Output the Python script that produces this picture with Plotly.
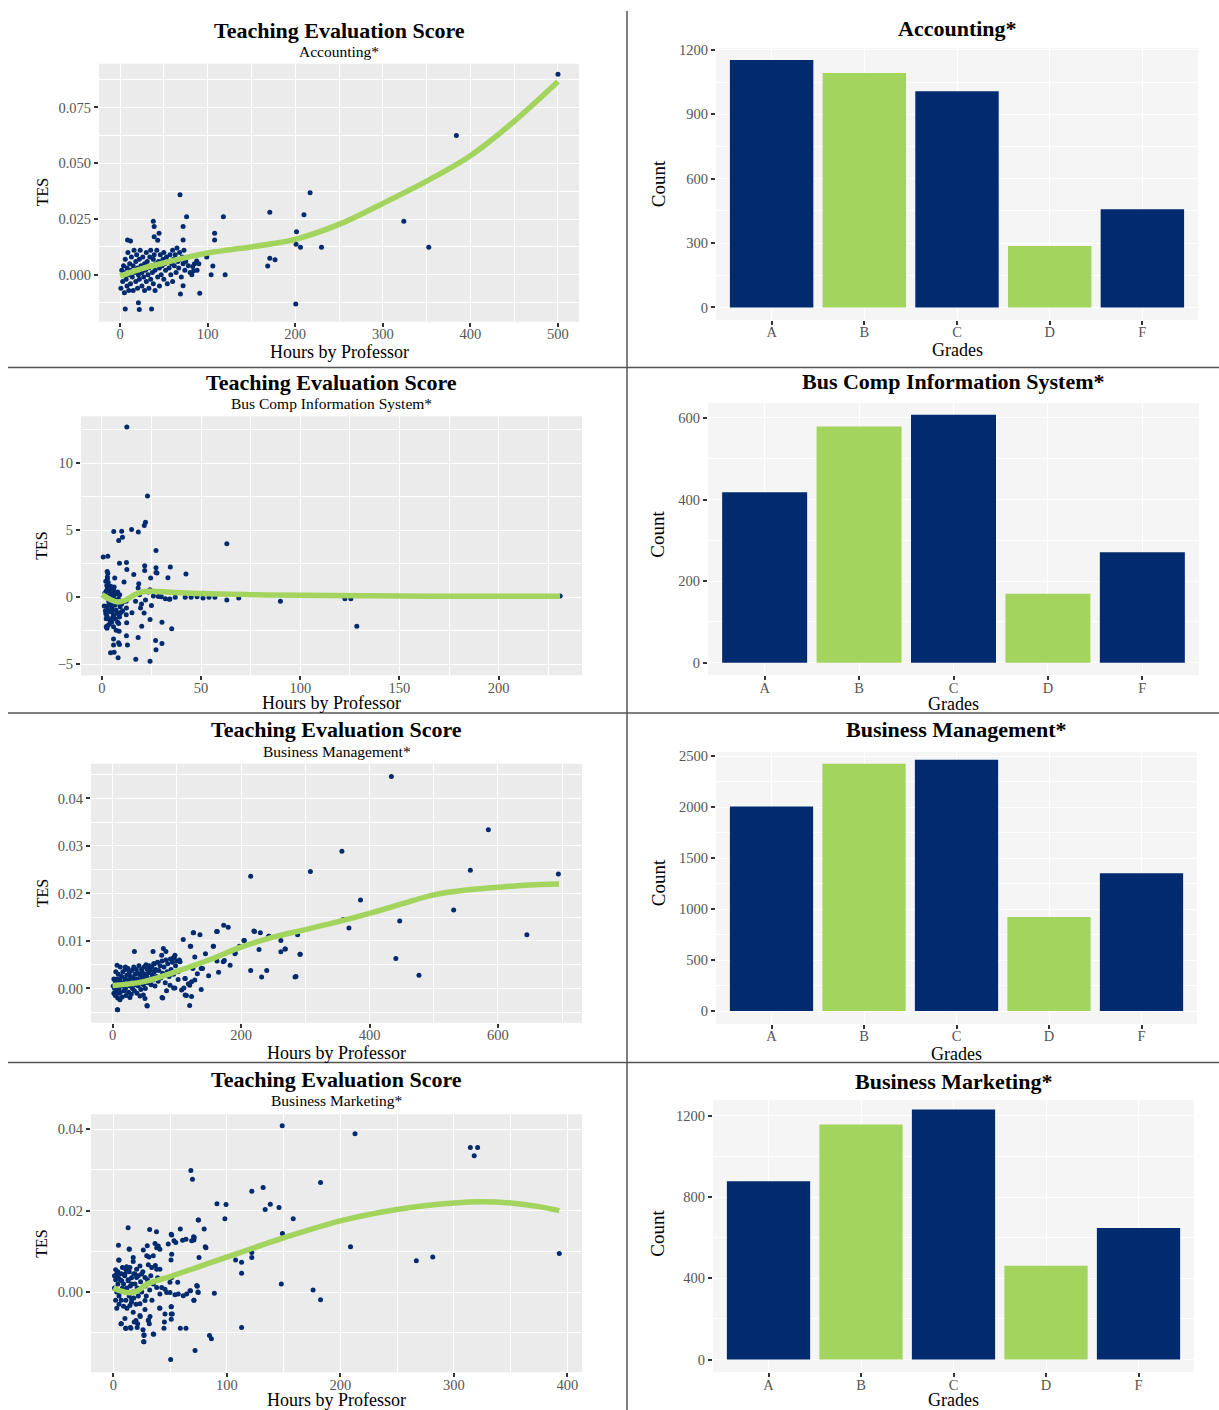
import plotly.graph_objects as go

W, H = 1219, 1410
NAVY = "#012B6E"
GREEN = "#A2D45E"
FONT = "Liberation Serif"

# ---------------- DATA ----------------
grades = ["A", "B", "C", "D", "F"]
bar_colors = [NAVY, GREEN, NAVY, GREEN, NAVY]
acc_counts = [1153, 1093, 1007, 286, 458]
bcis_counts = [418, 579, 608, 169, 271]
bm_counts = [2005, 2425, 2464, 921, 1351]
mkt_counts = [878, 1157, 1231, 462, 648]

# Accounting: (hours, TES)
acc_points = [
    (500, 0.0899), (384, 0.0624), (324, 0.024), (352.5, 0.0124), (217, 0.0368), (210, 0.0269),
    (230, 0.0124), (171, 0.028), (201.5, 0.0193), (201, 0.0137), (206, 0.0124), (200.6, -0.0131),
    (171, 0.0074), (177, 0.0067), (168.6, 0.0039), (118, 0.026), (108, 0.0186), (108, 0.0156),
    (99, 0.008), (106, 0.0039), (104, 0.0), (120, 0.0), (91, -0.0083), (68.5, 0.0359), (76, 0.026),
    (72, 0.0217), (72, 0.0156), (69, -0.0086), (72, -0.0049), (21, -0.0125), (6, -0.0153),
    (22, -0.0155), (36, -0.0153), (38, 0.024), (39, 0.0217), (44.6, 0.0186), (39, 0.017),
    (43, 0.0155), (8.6, 0.0156), (12, 0.0152), (87.5, 0.0062), (83, 0.0037), (84, 0.0018), (82, 0.0),
    (1, -0.006), (2, 0.002), (3, -0.003), (4, 0.004), (5, -0.008), (5, 0.001), (6, 0.007), (7, -0.002),
    (8, 0.003), (8, -0.005), (9, 0.010), (10, 0.0), (10, -0.007), (11, 0.005), (12, 0.002), (12, -0.004),
    (13, 0.008), (14, -0.001), (15, 0.004), (15, -0.007), (16, 0.011), (17, 0.001), (18, -0.003),
    (18, 0.006), (19, 0.009), (20, -0.006), (20, 0.003), (21, 0.0), (22, 0.007), (22, -0.002),
    (23, 0.011), (24, 0.004), (25, -0.005), (25, 0.001), (26, 0.008), (27, -0.001), (28, 0.005),
    (28, -0.007), (29, 0.002), (30, 0.010), (30, -0.003), (31, 0.006), (32, 0.0), (33, 0.003),
    (33, -0.006), (34, 0.008), (35, 0.011), (35, -0.002), (36, 0.004), (37, 0.001), (38, -0.004),
    (38, 0.007), (39, 0.009), (40, 0.002), (40, -0.007), (41, 0.005), (42, 0.011), (43, -0.001),
    (44, 0.006), (45, 0.003), (45, -0.005), (46, 0.009), (47, 0.0), (48, 0.004), (49, 0.007),
    (50, -0.002), (50, 0.010), (51, 0.005), (52, 0.002), (53, 0.008), (54, -0.004), (55, 0.006),
    (56, 0.003), (57, 0.009), (58, 0.0), (59, 0.005), (60, 0.011), (60, -0.003), (61, 0.007),
    (62, 0.004), (63, 0.009), (64, 0.001), (65, 0.012), (66, 0.006), (67, 0.003), (68, 0.010),
    (69, 0.007), (70, -0.001), (71, 0.008), (72, 0.005), (73, 0.011), (74, 0.002), (75, 0.006),
    (78, 0.004), (80, 0.001), (85, 0.005), (88, 0.002), (90, 0.005),
]
acc_smooth_x = [0, 25, 50, 75, 100, 125, 150, 175, 200, 250, 300, 350, 400, 450, 500]
acc_smooth_y = [-0.0006, 0.0028, 0.0053, 0.0077, 0.0098, 0.0112, 0.0125, 0.0140, 0.0159,
                0.0226, 0.0320, 0.0420, 0.0534, 0.0688, 0.0866]

# Bus Comp Information System
bcis_points = [
    (12.6, 12.7), (23, 7.55), (22, 5.6), (21.4, 5.35), (6, 4.9), (10, 4.93), (15, 5.05), (18.4, 4.88),
    (8.5, 4.23), (10.4, 4.48), (63, 4.0), (27.3, 3.49), (0.7, 3.0), (3, 3.07), (8.9, 2.55), (12.4, 2.6),
    (21.6, 2.35), (27.3, 2.2), (34.5, 2.26), (42.4, 1.74), (21.6, 2.0), (27.3, 1.86), (12.6, 2.08),
    (2.7, 1.93), (2.8, 1.51), (2.8, 1.37), (6.5, 1.44), (11.2, 1.14), (16.1, 1.71), (24.6, 1.44),
    (33.3, 1.46), (18.6, 1.02), (24.3, 0.57), (18.3, 0.7), (27.8, 1.81), (28.5, 0.07), (34.3, -0.12),
    (51, 0.3), (51, -0.05), (54, 0.0), (57, 0.0), (63, -0.2), (69, -0.05), (90, -0.3), (122.5, -0.1),
    (125.5, -0.1), (128.5, -2.15), (37, 0.0), (42, 0.0), (34, -0.15), (15.2, -1.14), (21.3, -1.16),
    (24.3, -1.66), (20.1, -2.15), (30.3, -1.85), (35.2, -2.35), (8.7, -2.52), (12.4, -2.87),
    (18.3, -3.0), (5.9, -3.1), (8.4, -3.39), (8.9, -3.51), (5.9, -3.56), (12.9, -3.56), (27.1, -3.21),
    (27.3, -3.91), (30.3, -3.44), (4.4, -4.13), (6.2, -4.1), (8.2, -4.5), (17.1, -4.62), (24.3, -4.77),
    (12.3, -0.3), (12.4, -0.8), (12.3, -1.3), (12.5, -1.9), (17, -0.3), (19, 0.2), (20, -0.5),
    (22, -0.2), (23.5, 0.4), (25, -0.6), (19.5, -0.8), (26, 0.1), (30, 0.05), (32, -0.1), (45, 0.0),
    (48, 0.05), (231, 0.1),
    (1.2, -0.64), (2.5, -0.66), (2.85, -0.94), (2.0, -1.21), (2.5, -1.38), (3.35, -1.58), (4.2, -1.75),
    (5.0, -1.83), (2.85, -2.12), (2.2, -2.2), (5.9, -2.2), (7.2, -2.45), (8.9, -1.46), (9.2, -0.71),
    (8.9, -0.47), (7.2, -0.96), (7.9, -1.21), (5.9, -1.34), (5.0, -0.84), (3.85, -0.22), (4.7, 0.03),
    (4.2, 0.27), (2.85, 0.65), (2.5, 0.89), (4.5, 0.82), (6.2, 0.77), (5.9, 0.52), (7.5, 0.27),
    (8.4, -0.1), (6.7, -0.22), (3.2, 0.07), (2.2, 0.47), (5.5, -1.51), (7.9, -1.83), (4.2, -1.08),
    (3.5, -0.59), (6.5, -0.59), (9.2, -1.21), (9.9, -1.08), (8.5, -1.95), (1.5, 0.3), (3.0, 0.5),
    (4.0, 0.6), (5.5, 0.4), (6.0, 0.1), (3.5, -0.3), (1.8, -1.0), (4.8, -0.5), (6.8, -1.6),
    (3.8, -2.0), (7.0, -0.3), (5.2, -1.1), (2.2, -1.6), (9.0, 0.2), (10.0, -0.5), (11.0, -0.3),
    (10.5, -1.0), (8.0, 0.4), (2.0, 1.2), (3.2, 1.1), (2.6, -2.3), (3.0, 1.8),
]
bcis_smooth_x = [0, 4, 8, 12, 16, 20, 25, 35, 50, 75, 100, 150, 200, 231]
bcis_smooth_y = [0.2, -0.15, -0.35, -0.2, 0.15, 0.4, 0.45, 0.38, 0.28, 0.2, 0.15, 0.1, 0.08, 0.08]

# Business Management
bm_points = [
    (434, 0.0446), (585, 0.0334), (357, 0.0289), (308, 0.0246), (215, 0.0236), (557, 0.0249),
    (694, 0.0241), (386, 0.0186), (531, 0.0165), (447, 0.0142), (368, 0.0127), (359, 0.0145),
    (645, 0.0113), (441, 0.0063), (477, 0.0028), (284, 0.0024), (292, 0.0072), (288, 0.0113),
    (269, 0.0083), (262, 0.0077), (262, 0.0101), (243, 0.011), (230, 0.0117), (220, 0.0121),
    (228, 0.0082), (240, 0.0038), (232, 0.0024), (215, 0.0038), (205, 0.0101), (197.5, 0.0089),
    (191, 0.0075), (183, 0.0049), (180, 0.0129), (173, 0.0133), (162, 0.012), (157, 0.0089),
    (174, 0.0059), (162.5, 0.0058), (165, 0.0034), (149.5, 0.0027), (144.6, 0.0073), (136, 0.0113),
    (126, 0.0117), (110, 0.0103), (121, 0.0089), (138, 0.0042), (125, 0.0042), (120, 0.0007),
    (113, 0.0021), (138, -0.0002), (120, -0.0036), (123, -0.0017), (113, -0.0014), (111, 0.0001),
    (95, 0.0001), (102, 0.0019), (53.5, -0.0036), (7.4, -0.0045), (77, -0.0019), (34, 0.0078),
    (63, 0.0078), (83, 0.0078), (7, 0.0049), (20, 0.0045),
    (7.9, -0.0045), (54, -0.0037), (125.6, 0.0117), (121.6, 0.0089), (115, -0.0015), (128, 0.0066),
    (156.8, 0.0089), (163, 0.012), (190.5, 0.0073), (204.6, 0.0101), (221, 0.012), (243.5, 0.011),
    (268.4, 0.0083), (291.8, 0.0072), (285.5, 0.0025), (172.3, 0.0056), (140, 0.0042),
    (132, 0.0031), (123, 0.0014), (128, 0.0018), (118, 0.001), (112.7, 0.0021), (105, 0.0056),
    (97, 0.007), (94.5, 0.0064), (107.5, -0.0003), (97, 0.0001), (84, -0.0005), (78, -0.002),
    (89.4, 0.0007), (76.4, 0.007), (79, 0.0084), (65, 0.0052), (50.4, -0.0021), (47.8, -0.0014),
    (11.5, -0.0024), (27, -0.0019), (42.7, -0.0016),
    (1, 0.0005), (2, -0.001), (2, 0.002), (3, 0.0), (4, 0.0015), (4, -0.0015), (5, 0.0035),
    (6, 0.0008), (6, -0.0005), (7, 0.002), (8, -0.002), (8, 0.0012), (9, 0.003), (10, 0.0),
    (10, -0.001), (11, 0.0018), (12, 0.0045), (12, -0.0008), (13, 0.001), (14, 0.0025),
    (15, -0.0018), (15, 0.0005), (16, 0.0035), (17, 0.0012), (18, -0.0005), (19, 0.002),
    (20, 0.004), (20, 0.0), (21, -0.0015), (22, 0.0028), (23, 0.001), (24, 0.0042), (25, -0.0008),
    (25, 0.0018), (26, 0.0033), (27, 0.0005), (28, 0.0025), (29, -0.0012), (30, 0.0038),
    (30, 0.0012), (31, 0.0), (32, 0.0022), (33, 0.0045), (34, -0.0005), (35, 0.003), (35, 0.0015),
    (36, 0.0008), (37, 0.004), (38, -0.001), (38, 0.002), (39, 0.0032), (40, 0.0005), (41, 0.0048),
    (42, 0.0018), (43, 0.0028), (44, -0.0002), (45, 0.004), (45, 0.0012), (46, 0.0035),
    (47, 0.0022), (48, 0.0008), (49, 0.0045), (50, 0.003), (50, 0.0015), (51, 0.0), (52, 0.005),
    (53, 0.0025), (54, 0.004), (55, 0.0012), (56, 0.0033), (57, 0.0048), (58, 0.002), (59, 0.0038),
    (60, 0.0008), (61, 0.0045), (62, 0.0028), (63, 0.0018), (64, 0.0052), (65, 0.0035),
    (66, 0.0005), (67, 0.004), (68, 0.0025), (70, 0.0055), (71, 0.0015), (72, 0.0038), (74, 0.0048),
    (75, 0.0022), (77, 0.0058), (78, 0.0032), (80, 0.0045), (82, 0.0012), (83, 0.006), (85, 0.0035),
    (86, 0.0052), (88, 0.0025), (90, 0.0062), (91, 0.004), (93, 0.0055), (95, 0.003), (96, 0.0065),
    (98, 0.0048), (100, 0.0058), (102, 0.0035), (104, 0.006),
]
bm_smooth_x = [0, 50, 100, 150, 200, 250, 300, 350, 400, 450, 500, 550, 600, 650, 695]
bm_smooth_y = [0.0006, 0.0015, 0.0036, 0.0060, 0.0087, 0.0108, 0.0124, 0.0140, 0.0158, 0.0178,
               0.0197, 0.0207, 0.0213, 0.0218, 0.0220]

# Business Marketing
mkt_points = [
    (148.8, 0.0409), (213, 0.0389), (314.6, 0.0355), (321, 0.0355), (318, 0.0335), (68.3, 0.0299),
    (69.7, 0.0277), (132, 0.0257), (122, 0.0248), (182.6, 0.0269), (91.3, 0.0217), (99.3, 0.0215),
    (138.3, 0.0216), (146, 0.0208), (133.8, 0.0203), (158.5, 0.018), (98.3, 0.018), (75, 0.0177),
    (80, 0.0155), (149, 0.0144), (209, 0.0111), (393, 0.0095), (281.5, 0.0086), (267, 0.0077),
    (122, 0.0097), (122, 0.0085), (107.7, 0.0079), (113, 0.0073), (113, 0.0046), (148, 0.002),
    (176, 0.0005), (182.6, -0.0019), (113, -0.0087), (84.7, -0.0107), (86.4, -0.0115), (72, -0.0144),
    (50.5, -0.0166), (89, -0.0003), (59, -0.0089), (64, -0.0089), (35.5, -0.0104), (27, -0.0107),
    (27, -0.0122), (40.8, -0.0039), (51, -0.0036), (51, -0.0054), (51, -0.0067), (45, -0.0074),
    (31, -0.0069), (15, -0.0087), (7, -0.0078), (11, -0.0089), (21, -0.0087), (23.7, -0.006),
    (13, 0.0158), (4.5, 0.0115), (14, 0.0105), (32, 0.0154), (38, 0.0148), (59, 0.0155), (51, 0.0142),
    (70.7, 0.0136), (71, 0.0128), (64, 0.013), (55, 0.0122), (81, 0.0111), (5, 0.0078), (73.5, 0.0016),
    (74.5, 0.0), (68, 0.0003), (71, -0.002),
    (4.7, 0.0079), (14, 0.0106), (29.9, 0.0114), (26.4, 0.0103), (36.7, 0.0119), (39.6, 0.0113),
    (41, 0.0105), (38.2, 0.0109), (51.4, 0.014), (48.4, 0.0118), (53.4, 0.0126), (61, 0.0127),
    (69, 0.0126), (71.3, 0.0134), (74.8, 0.0177), (81.6, 0.0109), (75.5, 0.0085), (51.4, 0.0093),
    (50.8, 0.0079), (29.4, 0.0089), (31.4, 0.0086), (35.2, 0.0089), (17.5, 0.0085), (17.5, 0.0075),
    (23.4, 0.0064), (20.5, 0.0056), (14.6, 0.006), (11.7, 0.0062), (30.8, 0.0067), (33.8, 0.006),
    (38.2, 0.0056), (41, 0.0056), (2, 0.0055), (2.9, 0.0044), (4.3, 0.0036), (10.2, 0.0044),
    (7.3, 0.0028), (13.1, 0.0028), (16.1, 0.002), (20.5, 0.0036), (19, 0.0044), (24.9, 0.0044),
    (27.9, 0.0036), (35.2, 0.002), (38.2, 0.0011), (42.6, 0.0011), (45.5, 0.0007), (41, -0.0005),
    (47, -0.0001), (49.9, -0.0001), (54.3, -0.0007), (57.2, -0.0005), (61.6, -0.0009), (56.7, 0.0024),
    (49.9, 0.0024), (51.4, 0.0036), (64.6, -0.0005), (67.5, 0.0003), (71, -0.002), (74, 0.0014),
    (74.8, -0.0001), (51, -0.0036), (51.9, -0.0054), (45.5, -0.0054), (41, -0.004), (44.6, -0.0089),
    (32.3, -0.006), (30.8, -0.007), (31.7, -0.0078), (27.9, -0.0043), (27.9, -0.0021), (23.4, -0.0029),
    (23.4, -0.0058), (19.9, -0.007), (21.4, -0.0078), (18.4, -0.0074), (17.5, -0.005), (14.6, -0.0033),
    (16.1, -0.0017), (10.2, -0.0065), (6.7, -0.0078), (10.8, -0.0089), (15.5, -0.0089), (26.1, -0.0093),
    (27, -0.0105), (26.7, -0.0122), (35.2, -0.0103),
    (1, 0.004), (1, 0.001), (2, -0.002), (2, 0.003), (3, 0.0), (3, -0.004), (4, 0.002), (4, 0.005),
    (5, -0.001), (5, -0.003), (6, 0.003), (6, 0.0), (7, 0.0045), (7, -0.002), (8, 0.001), (8, 0.006),
    (9, -0.0035), (9, 0.002), (10, 0.0), (10, 0.004), (11, -0.002), (11, 0.0055), (12, 0.001),
    (12, -0.004), (13, 0.003), (14, -0.001), (14, 0.005), (15, 0.0015), (16, -0.0025), (16, 0.0035),
    (17, 0.0), (18, 0.0045), (18, -0.0015), (19, 0.002), (20, -0.003), (21, 0.001), (22, 0.004),
    (22, -0.001), (24, 0.0025), (25, 0.0), (26, 0.005), (28, 0.0015), (29, -0.001), (30, 0.003),
    (32, 0.0005), (33, 0.004), (34, -0.002), (36, 0.0025), (37, 0.0065), (39, 0.0035),
]
mkt_smooth_x = [0, 7, 15, 22, 30, 50, 75, 100, 150, 200, 250, 300, 325, 350, 375, 393]
mkt_smooth_y = [0.0010, 0.0002, -0.0002, 0.0004, 0.0020, 0.0038, 0.0062, 0.0086, 0.0133, 0.0175,
                0.0203, 0.0219, 0.0222, 0.0219, 0.0210, 0.0200]

dept_names = ["Accounting*", "Bus Comp Information System*", "Business Management*", "Business Marketing*"]
scatter_title = "Teaching Evaluation Score"
x_scatter_label = "Hours by Professor"
y_scatter_label = "TES"
x_bar_label = "Grades"
y_bar_label = "Count"

scatter_sets = [
    (acc_points, acc_smooth_x, acc_smooth_y),
    (bcis_points, bcis_smooth_x, bcis_smooth_y),
    (bm_points, bm_smooth_x, bm_smooth_y),
    (mkt_points, mkt_smooth_x, mkt_smooth_y),
]
bar_sets = [acc_counts, bcis_counts, bm_counts, mkt_counts]

# ---------------- LAYOUT SPECS (pixels) ----------------
left_specs = [
    dict(box=(99, 579, 58, 317), xr=(-24, 524), yr=(-0.021, 0.0946), xd=100, xm=50, yd=0.025, ym=0.0125, yf=".3f",
         title_y=25, sub_y=46, xt_y=347, yt_y=187),
    dict(box=(81, 582, 412, 672), xr=(-10.5, 242), yr=(-5.8, 13.5), xd=50, xm=25, yd=5, ym=2.5, yf="",
         title_y=378, sub_y=399, xt_y=700, yt_y=542),
    dict(box=(91, 582, 761, 1021), xr=(-33.6, 730.8), yr=(-0.0072, 0.0473), xd=200, xm=100, yd=0.01, ym=0.005, yf=".2f",
         title_y=727, sub_y=749, xt_y=1051, yt_y=891),
    dict(box=(91, 582, 1113, 1372), xr=(-19.7, 413), yr=(-0.0197, 0.0437), xd=100, xm=50, yd=0.02, ym=0.01, yf=".2f",
         title_y=1078, sub_y=1099, xt_y=1400, yt_y=1243),
]
right_specs = [
    dict(box=(716, 1198, 42, 315), yr=(-57, 1210), yd=300, ym=150, title_y=23, xt_y=345, yt_y=178),
    dict(box=(708, 1199, 399, 672), yr=(-30.5, 636), yd=200, ym=100, title_y=377, xt_y=701, yt_y=530),
    dict(box=(716, 1197, 749, 1022), yr=(-124, 2542), yd=500, ym=250, title_y=727, xt_y=1052, yt_y=880),
    dict(box=(713, 1194, 1099, 1372), yr=(-62, 1276), yd=400, ym=200, title_y=1080, xt_y=1400, yt_y=1232),
]

fig = go.Figure()
layout = dict(width=W, height=H, margin=dict(l=0, r=0, t=0, b=0), paper_bgcolor="white",
              plot_bgcolor="rgba(0,0,0,0)", showlegend=False, font=dict(family=FONT))
annotations = []
shapes = []

TICKFONT = dict(family=FONT, size=14.5, color="#555555")


def px_x(v):
    return v / W


def px_y(v):
    return 1 - v / H


def add_text(text, x, y, size, bold=False, angle=0, color="black"):
    annotations.append(dict(text=f"<b>{text}</b>" if bold else text, x=px_x(x), y=px_y(y),
                            xref="paper", yref="paper", showarrow=False, xanchor="center",
                            yanchor="middle", textangle=angle,
                            font=dict(family=FONT, size=size, color=color)))


def axis_common():
    return dict(showline=False, zeroline=False, ticks="outside", ticklen=4, tickwidth=2,
                tickcolor="#333333", tickfont=TICKFONT, gridcolor="white", gridwidth=1.2, showgrid=True)


idx = 0
for row in range(4):
    for side in ("L", "R"):
        idx += 1
        xa = "x" if idx == 1 else f"x{idx}"
        ya = "y" if idx == 1 else f"y{idx}"
        xkey = "xaxis" if idx == 1 else f"xaxis{idx}"
        ykey = "yaxis" if idx == 1 else f"yaxis{idx}"
        if side == "L":
            s = left_specs[row]
            pts, sx, sy = scatter_sets[row]
            xs = [p[0] for p in pts]
            ys = [p[1] for p in pts]
            fig.add_trace(go.Scatter(x=xs, y=ys, mode="markers", xaxis=xa, yaxis=ya,
                                     marker=dict(size=5, color=NAVY, line=dict(width=0))))
            fig.add_trace(go.Scatter(x=sx, y=sy, mode="lines", xaxis=xa, yaxis=ya,
                                     line=dict(color=GREEN, width=5.5, shape="spline", smoothing=1.0)))
            x0, x1, y0, y1 = s["box"]
            xax = axis_common()
            xax.update(domain=[px_x(x0), px_x(x1)], range=list(s["xr"]), dtick=s["xd"], tick0=0,
                       anchor=ya, ticklabelstandoff=-5,
                       minor=dict(dtick=s["xm"], tick0=0, showgrid=True, gridcolor="white", gridwidth=0.6))
            yax = axis_common()
            yax.update(domain=[px_y(y1), px_y(y0)], range=list(s["yr"]), dtick=s["yd"], tick0=0,
                       anchor=xa, tickformat=s["yf"],
                       minor=dict(dtick=s["ym"], tick0=0, showgrid=True, gridcolor="white", gridwidth=0.6))
            layout[xkey] = xax
            layout[ykey] = yax
            bg = "#EBEBEB"
            cx = (x0 + x1) / 2
            add_text(scatter_title, cx, s["title_y"], 22, bold=True)
            add_text(dept_names[row], cx, s["sub_y"], 15.5)
            add_text(x_scatter_label, cx, s["xt_y"], 18)
            add_text(y_scatter_label, 42, s["yt_y"], 16, angle=-90)
        else:
            s = right_specs[row]
            fig.add_trace(go.Bar(x=grades, y=bar_sets[row], xaxis=xa, yaxis=ya, width=0.9,
                                 marker=dict(color=bar_colors, line=dict(width=0))))
            x0, x1, y0, y1 = s["box"]
            xax = axis_common()
            xax.update(domain=[px_x(x0), px_x(x1)], range=[-0.6, 4.6], type="category", anchor=ya,
                       gridwidth=1.0, ticklabelstandoff=-5)
            yax = axis_common()
            yax.update(domain=[px_y(y1), px_y(y0)], range=list(s["yr"]), dtick=s["yd"], tick0=0,
                       anchor=xa, minor=dict(dtick=s["ym"], tick0=0, showgrid=True, gridcolor="white", gridwidth=0.6))
            layout[xkey] = xax
            layout[ykey] = yax
            bg = "#F5F5F5"
            cx = (x0 + x1) / 2
            add_text(dept_names[row], cx, s["title_y"], 22, bold=True)
            add_text(x_bar_label, cx, s["xt_y"], 18)
            add_text(y_bar_label, 658, s["yt_y"], 19, angle=-90)
        shapes.append(dict(type="rect", xref=f"{xa} domain", yref=f"{ya} domain", x0=0, x1=1, y0=0, y1=1,
                           fillcolor=bg, line=dict(width=0), layer="below"))

# panel dividers
for yy in (363, 710, 1061):
    shapes.append(dict(type="line", xref="paper", yref="paper", x0=px_x(8), x1=1, y0=px_y(yy), y1=px_y(yy),
                       line=dict(color="#555555", width=1.5)))
shapes.append(dict(type="line", xref="paper", yref="paper", x0=px_x(627), x1=px_x(627), y0=0, y1=px_y(5),
                   line=dict(color="#555555", width=1.5)))

layout["annotations"] = annotations
layout["shapes"] = shapes
fig.update_layout(**layout)
fig.write_html("out.html", config={"displayModeBar": False},
               post_script="document.body.style.margin='0px';document.body.style.overflow='hidden';")
